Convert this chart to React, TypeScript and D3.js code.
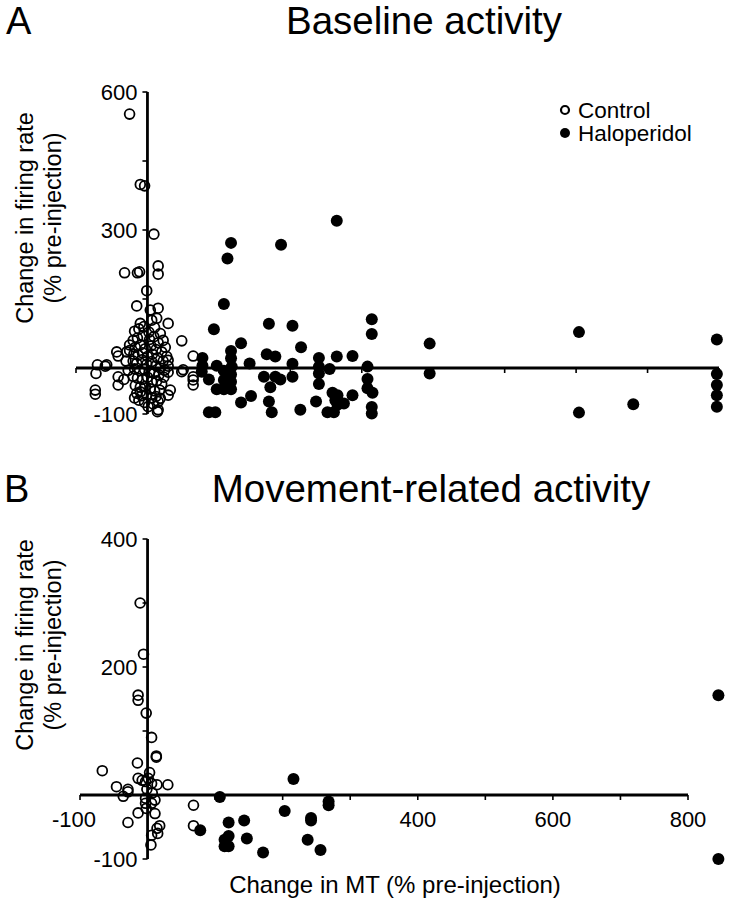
import React from 'react';
import * as d3 from 'd3';

type Pt = [number, number];

// Panel A (Baseline activity): [change in MT %, change in firing rate %]
const controlA: Pt[] = [
  [-25, 552], [-10, 399], [-4, 396], [9, 291], [-32, 207], [-14, 207], [-11, 209],
  [15, 222], [15, 204], [-1, 168], [-15, 135], [4, 126], [15, 130], [6, 104], [13, 108],
  [29, 97], [-10, 97], [48, 59], [-41, 26], [-25, 38], [-43, 35], [-29, 35], [-70, 7], [-59, 4],
  [-57, 7], [-72, -12], [-73, -48], [-73, -57], [-41, -19], [-41, -37], [64, 26], [64, -19],
  [64, -37], [64, -26], [50, -4], [48, -8], [29, 17], [29, 4], [29, -9], [32, -48], [29, -59],
  [18, -66], [15, -73], [14, -95], [15, -91], [1, -84], [-10, -52],
  [-18, 80], [-12, 85], [-5, 90], [2, 78], [10, 88], [18, 75], [22, 60],
  [-20, 60], [-14, 65], [-6, 70], [3, 62], [9, 68], [15, 55], [25, 45],
  [-17, 45], [-10, 50], [-3, 42], [5, 48], [12, 40], [20, 35], [27, 25],
  [-19, 30], [-13, 28], [-7, 33], [0, 25], [7, 30], [14, 22], [22, 15],
  [-20, 15], [-15, 10], [-8, 18], [-1, 8], [6, 14], [12, 5], [18, 0], [24, -5],
  [-18, -2], [-11, -6], [-4, -3], [3, -8], [9, -12], [16, -15], [23, -20],
  [-20, -18], [-14, -22], [-7, -25], [0, -20], [6, -30], [13, -28], [20, -35],
  [-17, -38], [-10, -42], [-3, -40], [4, -45], [10, -50], [17, -48],
  [-15, -55], [-8, -60], [-1, -58], [6, -65], [12, -62], [-12, -70], [-4, -75], [8, -78],
  [-18, -65], [-30, 15], [-27, -5], [-33, -25], [-25, 50]
];

const haloA: Pt[] = [
  [265, 320], [117, 272], [112, 238], [187, 268], [107, 139], [93, 84], [170, 96], [203, 92],
  [314, 106], [314, 74], [131, 54], [215, 45], [117, 37], [117, 21], [77, 22], [167, 30],
  [179, 25], [240, 22], [265, 25], [287, 26], [143, 10], [203, 9], [77, 5], [97, 5], [118, 3],
  [240, 3], [255, -2], [308, 3], [76, -8], [107, -6], [117, -14], [203, -19], [163, -19],
  [179, -19], [186, -25], [240, -12], [308, -24], [86, -25], [107, -26], [117, -30], [172, -42],
  [240, -35], [97, -46], [107, -46], [117, -46], [308, -44], [315, -54], [145, -61], [259, -54],
  [266, -59], [287, -59], [131, -75], [170, -73], [236, -73], [263, -70], [275, -77], [266, -80],
  [86, -96], [95, -96], [174, -96], [214, -91], [252, -96], [261, -96], [314, -85], [314, -99],
  [395, 53], [395, -12], [604, 78], [604, -97], [680, -79],
  [797, 62], [797, -13], [797, -37], [797, -59], [797, -84]
];

// Panel B (Movement-related activity)
const controlB: Pt[] = [
  [-11, 300], [-6, 220], [-14, 156], [-14, 148], [-2, 128], [6, 90], [13, 61], [13, 59],
  [-15, 50], [-67, 38], [3, 35], [-14, 26], [-8, 23], [-3, 21], [1, 26], [6, 18], [14, 16],
  [30, 16], [-46, 13], [-29, 9], [-29, 5], [-36, -2], [-1, 9], [7, 3], [-3, -5], [11, -8],
  [-3, -13], [6, -13], [-2, -21], [11, -29], [-14, -28], [-29, -43], [18, -48], [14, -52],
  [15, -60], [6, -63], [5, -78], [68, -16], [68, -48]
];

const haloB: Pt[] = [
  [216, 25], [107, -3], [268, -10], [268, -16], [203, -25], [242, -36], [242, -40], [120, -43],
  [143, -40], [78, -55], [120, -64], [114, -70], [147, -68], [237, -70], [114, -80], [120, -80],
  [171, -90], [256, -86], [845, -100], [845, 156]
];

const xTicks = [-100, 0, 100, 200, 300, 400, 500, 600, 700, 800];
const xTickLabelsB = [-100, 400, 600, 800];
const yTicksA = [600, 450, 300, 150, 0, -100];
const yTickLabelsA = [600, 300, -100];
const yTicksB = [400, 300, 200, 100, 0, -100];
const yTickLabelsB = [400, 200, -100];

const FONT = '"Liberation Sans", Arial, Helvetica, sans-serif';

const xA = d3.scaleLinear().domain([-100, 800]).range([76, 719]);
const yA = d3.scaleLinear().domain([-100, 600]).range([414, 92]);
const xB = d3.scaleLinear().domain([-100, 800]).range([80, 688]);
const yB = d3.scaleLinear().domain([-100, 400]).range([859, 539]);

function Panel({ x, y, control, halo, yTicks, yLabels, xLabels }: any) {
  const x0 = x(0);
  const y0 = y(0);
  const [xmin, xmax] = x.range();
  const [ybot, ytop] = y.range();
  return (
    <g>
      <line x1={xmin} x2={xmax} y1={y0} y2={y0} stroke="#000" strokeWidth={2.8} />
      <line x1={x0} x2={x0} y1={ybot} y2={ytop} stroke="#000" strokeWidth={2.8} />
      {xTicks.map((t) => (
        <line key={'xt' + t} x1={x(t)} x2={x(t)} y1={y0} y2={y0 + 5} stroke="#000" strokeWidth={1.6} />
      ))}
      {yTicks.map((t: number) => (
        <line key={'yt' + t} x1={x0 - 5} x2={x0} y1={y(t)} y2={y(t)} stroke="#000" strokeWidth={1.6} />
      ))}
      {yLabels.map((t: number) => (
        <text key={'yl' + t} x={x0 - 10} y={y(t)} dy="0.36em" textAnchor="end" fontSize={22} fontFamily={FONT}>
          {String(t)}
        </text>
      ))}
      {xLabels &&
        xLabels.map((t: number) => (
          <text key={'xl' + t} x={t === -100 ? x(t) - 6 : x(t)} y={y0 + 32} textAnchor="middle" fontSize={22} fontFamily={FONT}>
            {String(t)}
          </text>
        ))}
      {control.map((d: Pt, i: number) => (
        <circle key={'c' + i} cx={x(d[0])} cy={y(d[1])} r={4.9} fill="none" stroke="#000" strokeWidth={1.8} />
      ))}
      {halo.map((d: Pt, i: number) => (
        <circle key={'h' + i} cx={x(d[0])} cy={y(d[1])} r={6} fill="#000" />
      ))}
    </g>
  );
}

export default function App() {
  return (
    <svg
      width={735}
      height={900}
      viewBox="0 0 735 900"
      style={{ position: 'absolute', left: 0, top: 0, background: '#fff' }}
    >
      <rect width={735} height={900} fill="#fff" />
      {/* Panel A */}
      <text x={6} y={34} fontSize={38} fontFamily={FONT}>A</text>
      <text x={424} y={34} textAnchor="middle" fontSize={38.5} fontFamily={FONT}>Baseline activity</text>
      <g fontFamily={FONT} fontSize={23.5}>
        <text transform="translate(33,218) rotate(-90)" textAnchor="middle">Change in firing rate</text>
        <text transform="translate(61,218) rotate(-90)" textAnchor="middle">(% pre-injection)</text>
      </g>
      <Panel x={xA} y={yA} control={controlA} halo={haloA} yTicks={yTicksA} yLabels={yTickLabelsA} />
      {/* legend */}
      <circle cx={565} cy={110} r={4} fill="none" stroke="#000" strokeWidth={2.2} />
      <text x={578} y={118} fontSize={22.5} fontFamily={FONT}>Control</text>
      <circle cx={565} cy={133} r={5} fill="#000" />
      <text x={578} y={141} fontSize={22.5} fontFamily={FONT}>Haloperidol</text>

      {/* Panel B */}
      <text x={4} y={502} fontSize={38} fontFamily={FONT}>B</text>
      <text x={431} y={502} textAnchor="middle" fontSize={38.5} fontFamily={FONT}>Movement-related activity</text>
      <g fontFamily={FONT} fontSize={23.5}>
        <text transform="translate(33,645) rotate(-90)" textAnchor="middle">Change in firing rate</text>
        <text transform="translate(61,645) rotate(-90)" textAnchor="middle">(% pre-injection)</text>
      </g>
      <Panel x={xB} y={yB} control={controlB} halo={haloB} yTicks={yTicksB} yLabels={yTickLabelsB} xLabels={xTickLabelsB} />
      <text x={395} y={893} textAnchor="middle" fontSize={24} fontFamily={FONT}>Change in MT (% pre-injection)</text>
    </svg>
  );
}
